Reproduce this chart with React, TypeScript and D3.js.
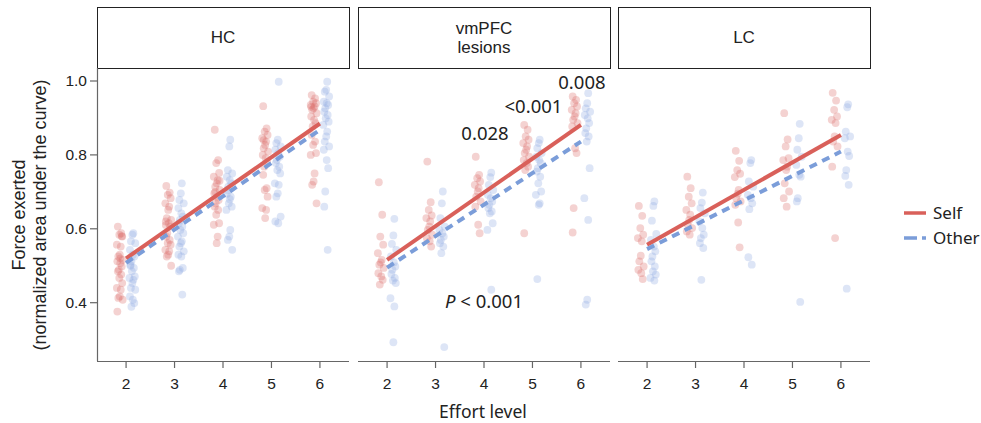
import React from "react";
import * as d3 from "d3";

const width = 981;
const height = 423;

const levels = [2, 3, 4, 5, 6];
const panelNames = ["HC", "vmPFC\nlesions", "LC"];
const yTicks = [0.4, 0.6, 0.8, 1.0];

// force values per effort level (2..6)
const hcSelf = [
  [0.606, 0.588, 0.584, 0.579, 0.557, 0.552, 0.53, 0.525, 0.516, 0.512, 0.507, 0.498, 0.489, 0.485, 0.476, 0.467, 0.453, 0.44, 0.435, 0.417, 0.413, 0.408, 0.376, 0.52, 0.58],
  [0.716, 0.698, 0.692, 0.683, 0.669, 0.66, 0.651, 0.629, 0.624, 0.62, 0.615, 0.606, 0.588, 0.579, 0.57, 0.561, 0.557, 0.543, 0.539, 0.53, 0.525, 0.5, 0.61],
  [0.868, 0.786, 0.778, 0.751, 0.741, 0.732, 0.723, 0.714, 0.705, 0.696, 0.687, 0.678, 0.669, 0.66, 0.651, 0.638, 0.615, 0.611, 0.579, 0.561, 0.7, 0.73],
  [0.932, 0.872, 0.863, 0.854, 0.845, 0.836, 0.827, 0.818, 0.809, 0.8, 0.791, 0.782, 0.768, 0.746, 0.71, 0.705, 0.687, 0.656, 0.651, 0.629, 0.84],
  [0.962, 0.953, 0.944, 0.94, 0.935, 0.931, 0.926, 0.922, 0.913, 0.904, 0.895, 0.886, 0.877, 0.854, 0.836, 0.827, 0.805, 0.8, 0.75, 0.728, 0.719, 0.669, 0.93],
];
const hcOther = [
  [0.588, 0.584, 0.566, 0.561, 0.543, 0.53, 0.525, 0.512, 0.503, 0.494, 0.485, 0.471, 0.467, 0.462, 0.453, 0.44, 0.435, 0.417, 0.408, 0.399, 0.389, 0.5],
  [0.723, 0.696, 0.678, 0.669, 0.656, 0.642, 0.633, 0.624, 0.615, 0.606, 0.597, 0.588, 0.579, 0.566, 0.561, 0.552, 0.539, 0.53, 0.525, 0.494, 0.489, 0.485, 0.422],
  [0.841, 0.823, 0.759, 0.75, 0.741, 0.732, 0.723, 0.714, 0.705, 0.687, 0.669, 0.66, 0.651, 0.597, 0.579, 0.57, 0.543, 0.695, 0.68],
  [0.998, 0.841, 0.832, 0.823, 0.814, 0.805, 0.795, 0.786, 0.778, 0.768, 0.759, 0.75, 0.723, 0.719, 0.696, 0.687, 0.633, 0.62, 0.615],
  [0.998, 0.976, 0.971, 0.958, 0.944, 0.94, 0.935, 0.926, 0.917, 0.908, 0.899, 0.89, 0.881, 0.863, 0.85, 0.836, 0.823, 0.814, 0.786, 0.764, 0.701, 0.66, 0.543],
];
const vmSelf = [
  [0.726, 0.638, 0.579, 0.557, 0.534, 0.516, 0.509, 0.503, 0.494, 0.48, 0.471, 0.462, 0.449],
  [0.782, 0.672, 0.651, 0.636, 0.629, 0.62, 0.606, 0.597, 0.584, 0.575, 0.566, 0.552],
  [0.795, 0.746, 0.737, 0.728, 0.719, 0.71, 0.701, 0.687, 0.674, 0.66, 0.611, 0.588],
  [0.881, 0.868, 0.85, 0.841, 0.832, 0.823, 0.814, 0.805, 0.795, 0.786, 0.778, 0.768, 0.759, 0.588],
  [0.958, 0.949, 0.94, 0.931, 0.922, 0.913, 0.904, 0.895, 0.886, 0.877, 0.818, 0.805, 0.656, 0.59],
];
const vmOther = [
  [0.627, 0.582, 0.559, 0.543, 0.525, 0.509, 0.498, 0.489, 0.478, 0.467, 0.46, 0.453, 0.412, 0.39, 0.293],
  [0.701, 0.669, 0.629, 0.606, 0.597, 0.588, 0.579, 0.57, 0.561, 0.552, 0.534, 0.28],
  [0.752, 0.74, 0.719, 0.705, 0.692, 0.683, 0.674, 0.665, 0.656, 0.647, 0.642, 0.615, 0.597, 0.435],
  [0.841, 0.832, 0.818, 0.805, 0.795, 0.786, 0.778, 0.764, 0.755, 0.741, 0.723, 0.701, 0.692, 0.669, 0.665, 0.464],
  [0.967, 0.94, 0.926, 0.917, 0.908, 0.899, 0.886, 0.872, 0.859, 0.85, 0.836, 0.764, 0.683, 0.624, 0.408, 0.395],
];
const lcSelf = [
  [0.662, 0.635, 0.602, 0.584, 0.575, 0.566, 0.527, 0.512, 0.498, 0.489, 0.48, 0.464],
  [0.741, 0.71, 0.687, 0.669, 0.651, 0.638, 0.624, 0.611, 0.602, 0.593, 0.584],
  [0.811, 0.784, 0.759, 0.749, 0.74, 0.705, 0.695, 0.683, 0.674, 0.665, 0.617, 0.55],
  [0.913, 0.842, 0.823, 0.791, 0.786, 0.768, 0.759, 0.723, 0.701, 0.683, 0.66],
  [0.968, 0.947, 0.922, 0.904, 0.895, 0.886, 0.85, 0.836, 0.823, 0.768, 0.575],
];
const lcOther = [
  [0.674, 0.662, 0.622, 0.586, 0.57, 0.552, 0.539, 0.525, 0.512, 0.498, 0.485, 0.476, 0.467, 0.46],
  [0.698, 0.671, 0.656, 0.642, 0.62, 0.602, 0.584, 0.575, 0.561, 0.548, 0.462],
  [0.786, 0.778, 0.728, 0.714, 0.692, 0.683, 0.669, 0.653, 0.523, 0.503],
  [0.884, 0.845, 0.814, 0.795, 0.773, 0.746, 0.741, 0.683, 0.674, 0.402],
  [0.937, 0.929, 0.863, 0.85, 0.845, 0.809, 0.797, 0.759, 0.743, 0.719, 0.438],
];

// fitted lines: value at effort 2 and at effort 6
const selfFits = [[0.52, 0.885], [0.516, 0.881], [0.557, 0.854]];
const otherFits = [[0.508, 0.868], [0.495, 0.836], [0.545, 0.809]];

const panelSelf = [hcSelf, vmSelf, lcSelf];
const panelOther = [hcOther, vmOther, lcOther];

// horizontal jitter of the points, in effort units
const jitter = [-0.04, 0.03, -0.01, 0.05, -0.06, 0.02, 0.0, -0.03, 0.06, -0.05, 0.01, 0.04, -0.02];

const pLabels = ["0.028", "<0.001", "0.008"];
const pLevels = [4, 5, 6];
const pValuesY = [0.859, 0.93, 0.997];

const selfColor = "#d9605a";
const otherColor = "#7b9dd9";
const dotRed = "#dc6a66";
const dotBlue = "#8eaae0";

const panelLeft = [97, 358, 618];
const panelW = 252;
const plotTop = 68;
const plotBottom = 361;
const stripTop = 7;

const sansA = "'Liberation Sans', Arial, sans-serif";
const sansB = "'Noto Sans', sans-serif";

const App = () => {
  const y = d3.scaleLinear().domain([0.4, 1.0]).range([302.7, 81]);
  const x = d3.scaleLinear().domain([1.4, 6.6]).range([0, panelW]);
  const fitLine = d3
    .line<[number, number]>()
    .x((d) => x(d[0]))
    .y((d) => y(d[1]));

  return (
    <svg width={width} height={height} style={{ position: "absolute", left: 0, top: 0, background: "#fff" }}>
      {panelNames.map((name, p) => {
        const selfData = panelSelf[p];
        const otherData = panelOther[p];
        const lines = name.split("\n");
        return (
          <g key={name} transform={`translate(${panelLeft[p]},0)`}>
            <rect x={0.5} y={stripTop + 0.5} width={panelW} height={plotTop - stripTop} fill="#fff" stroke="#222" strokeWidth={1} />
            {lines.map((l, i) => (
              <text
                key={l}
                x={panelW / 2}
                y={(stripTop + plotTop) / 2 + (i - (lines.length - 1) / 2) * 19}
                dy="0.35em"
                textAnchor="middle"
                fontFamily={sansA}
                fontSize={17}
                fill="#222"
              >
                {l}
              </text>
            ))}
            {levels.map((lv, li) => (
              <g key={"s" + lv}>
                {selfData[li].map((v, i) => (
                  <circle key={i} cx={x(lv - 0.13 + jitter[i % jitter.length])} cy={y(v)} r={3.9} fill={dotRed} fillOpacity={0.3} />
                ))}
                {otherData[li].map((v, i) => (
                  <circle key={"o" + i} cx={x(lv + 0.13 + jitter[(i + 5) % jitter.length])} cy={y(v)} r={3.9} fill={dotBlue} fillOpacity={0.3} />
                ))}
              </g>
            ))}
            <path d={fitLine([[2, selfFits[p][0]], [6, selfFits[p][1]]]) || ""} stroke={selfColor} strokeWidth={4} fill="none" />
            <path d={fitLine([[2, otherFits[p][0]], [6, otherFits[p][1]]]) || ""} stroke={otherColor} strokeWidth={4} strokeDasharray="8,6" fill="none" />
            <line x1={0} x2={panelW} y1={plotBottom + 0.5} y2={plotBottom + 0.5} stroke="#666" strokeWidth={1.2} />
            {levels.map((lv) => (
              <g key={"t" + lv}>
                <line x1={x(lv)} x2={x(lv)} y1={plotBottom} y2={plotBottom + 7} stroke="#666" strokeWidth={1.2} />
                <text x={x(lv)} y={plotBottom + 23} dy="0.35em" textAnchor="middle" fontFamily={sansA} fontSize={15.5} fill="#222">
                  {lv}
                </text>
              </g>
            ))}
            {p === 0 && (
              <g>
                <line x1={0.5} x2={0.5} y1={plotTop} y2={plotBottom} stroke="#666" strokeWidth={1.2} />
                {yTicks.map((t) => (
                  <g key={t}>
                    <line x1={-7} x2={0} y1={y(t)} y2={y(t)} stroke="#666" strokeWidth={1.2} />
                    <text x={-10} y={y(t)} dy="0.35em" textAnchor="end" fontFamily={sansA} fontSize={15.5} fill="#222">
                      {t.toFixed(1)}
                    </text>
                  </g>
                ))}
              </g>
            )}
            {p === 1 && (
              <g fontFamily={sansB} fontSize={18.5} fill="#222" textAnchor="middle">
                {pLabels.map((lab, i) => (
                  <text key={lab} x={x(pLevels[i]) + 1} y={y(pValuesY[i])} dy="0.35em">
                    {lab}
                  </text>
                ))}
                <text x={x(4)} y={302} dy="0.35em">
                  <tspan fontStyle="italic">P</tspan> {"< 0.001"}
                </text>
              </g>
            )}
          </g>
        );
      })}
      <g fontFamily={sansA} fontSize={18} fill="#222" textAnchor="middle">
        <text transform="translate(19,215) rotate(-90)" dy="0.35em">Force exerted</text>
        <text transform="translate(40,215) rotate(-90)" dy="0.35em">(normalized area under the curve)</text>
      </g>
      <text x={483} y={412} dy="0.35em" textAnchor="middle" fontFamily={sansB} fontSize={17.5} fill="#222">
        Effort level
      </text>
      <g fontFamily={sansB} fontSize={17} fill="#222">
        <line x1={904} x2={926} y1={213} y2={213} stroke={selfColor} strokeWidth={3.5} />
        <text x={933} y={213} dy="0.35em">Self</text>
        <line x1={904} x2={926} y1={238} y2={238} stroke={otherColor} strokeWidth={3.5} strokeDasharray="13,5" />
        <text x={933} y={238} dy="0.35em">Other</text>
      </g>
    </svg>
  );
};

export default App;
